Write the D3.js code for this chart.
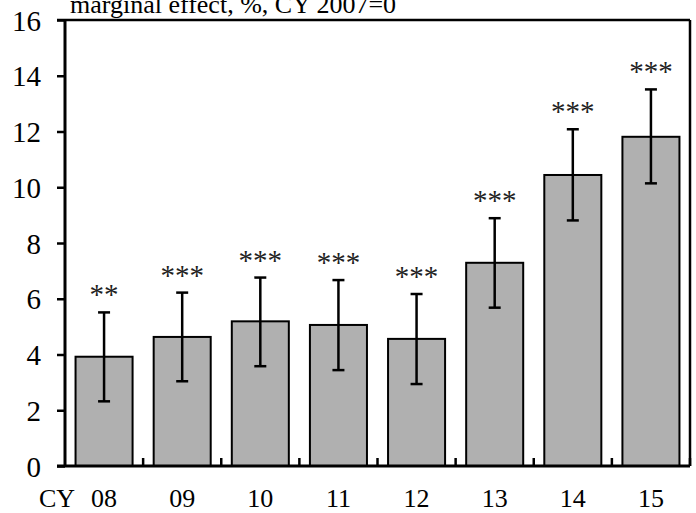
<!DOCTYPE html>
<html><head><meta charset="utf-8">
<script src="https://cdn.jsdelivr.net/npm/d3@7"></script>
<style>body{margin:0;background:#fff}svg{display:block}</style>
</head><body><div id="chart"></div>
<script>
const categories = ["08","09","10","11","12","13","14","15"];
const values = [3.92, 4.63, 5.19, 5.06, 4.56, 7.29, 10.44, 11.81];
const errHigh = [5.51, 6.22, 6.76, 6.67, 6.17, 8.89, 12.08, 13.51];
const errLow = [2.32, 3.04, 3.58, 3.44, 2.94, 5.68, 8.81, 10.14];
const significance = ["**","***","***","***","***","***","***","***"];
const yTicks = [0,2,4,6,8,10,12,14,16];
const titleText = "marginal effect, %, CY 2007=0";
const xPrefix = "CY";
const SERIF = "'Liberation Serif', 'Times New Roman', Times, serif";

const W = 696, H = 513;
const m = {left:65, right:6, top:20, bottom:47};
const svg = d3.select("#chart").append("svg").attr("width",W).attr("height",H)
  .style("font-family", SERIF);
const x = d3.scaleBand().domain(categories).range([m.left, W-m.right]).paddingInner(0.27).paddingOuter(0.135);
const xb = d3.scaleBand().domain(categories).range([m.left, W-m.right]);
const y = d3.scaleLinear().domain([0,16]).range([H-m.bottom, m.top]);

// bars
svg.append("g").selectAll("rect").data(categories).join("rect")
  .attr("x", d=>x(d)).attr("width", x.bandwidth())
  .attr("y", (d,i)=>y(values[i])).attr("height", (d,i)=>y(0)-y(values[i]))
  .attr("fill","#b0b0b0").attr("stroke","#000").attr("stroke-width",2);

// error bars
const eg = svg.append("g").attr("stroke","#000").attr("stroke-width",2.5);
categories.forEach((c,i)=>{
  const cx = x(c)+x.bandwidth()/2;
  eg.append("line").attr("x1",cx).attr("x2",cx).attr("y1",y(errLow[i])).attr("y2",y(errHigh[i]));
  eg.append("line").attr("x1",cx-6).attr("x2",cx+6).attr("y1",y(errLow[i])).attr("y2",y(errLow[i]));
  eg.append("line").attr("x1",cx-6).attr("x2",cx+6).attr("y1",y(errHigh[i])).attr("y2",y(errHigh[i]));
});

// significance stars
svg.append("g").selectAll("text").data(categories).join("text")
  .attr("x", d=>x(d)+x.bandwidth()/2)
  .attr("y", (d,i)=>y(errHigh[i])-8)
  .attr("text-anchor","middle").style("font-family",SERIF).style("font-size","29px").attr("fill","#222")
  .text((d,i)=>significance[i]);

// frame: top and right
svg.append("line").attr("x1",m.left-8).attr("x2",W-m.right).attr("y1",y(16)).attr("y2",y(16)).attr("stroke","#000").attr("stroke-width",2.5);
svg.append("line").attr("x1",W-m.right).attr("x2",W-m.right).attr("y1",y(16)).attr("y2",y(0)).attr("stroke","#000").attr("stroke-width",2.5);

// y axis
const ya = svg.append("g").attr("transform",`translate(${m.left},0)`)
  .call(d3.axisLeft(y).tickValues(yTicks).tickSize(8).tickPadding(16).tickFormat(d3.format("d")));
ya.attr("font-family",null).attr("font-size",null);
ya.select(".domain").attr("stroke-width",3).attr("d",`M0,${y(16)}V${y(0)}`);
ya.selectAll(".tick line").attr("stroke-width",2.5);
ya.selectAll("text").style("font-family",SERIF).style("font-size","29px").attr("dy","0.35em");

// x axis with inward ticks at band boundaries
const xa = svg.append("g").attr("transform",`translate(0,${y(0)})`);
xa.append("line").attr("x1",m.left-8).attr("x2",W-m.right).attr("stroke","#000").attr("stroke-width",3);
xa.selectAll("line.bt").data(categories).join("line").attr("class","bt")
  .attr("x1",d=>xb(d)+xb.bandwidth()).attr("x2",d=>xb(d)+xb.bandwidth())
  .attr("y1",0).attr("y2",-8).attr("stroke","#000").attr("stroke-width",2.5);
xa.selectAll("text.lab").data(categories).join("text").attr("class","lab")
  .attr("x",d=>xb(d)+xb.bandwidth()/2).attr("y",41).attr("text-anchor","middle")
  .style("font-family",SERIF).style("font-size","26px").text(d=>d);
xa.append("text").attr("x",39).attr("y",41).style("font-family",SERIF).style("font-size","26px").text(xPrefix);

// title (clipped at top as in reference)
svg.append("text").attr("x",70).attr("y",13).style("font-family",SERIF).style("font-size","26px").text(titleText);
</script></body></html>
